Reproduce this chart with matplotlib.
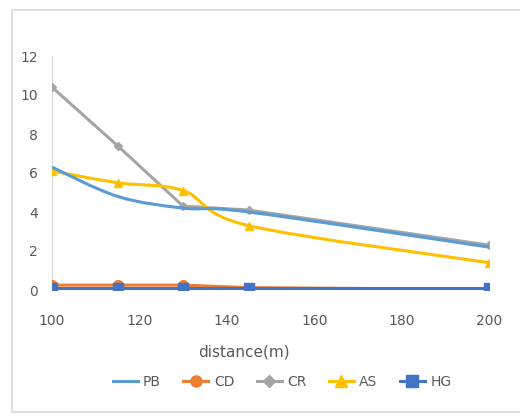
import numpy as np
import matplotlib
matplotlib.use('Agg')
import matplotlib.pyplot as plt
from matplotlib.path import Path
from matplotlib.patches import PathPatch, Rectangle
from matplotlib.lines import Line2D

distance = [100, 115, 130, 145, 200]
pb = [6.3, 4.8, 4.2, 4.0, 2.2]
cd = [0.25, 0.25, 0.25, 0.12, 0.03]
cr = [10.4, 7.4, 4.3, 4.1, 2.3]
as_ = [6.1, 5.5, 5.1, 3.3, 1.4]
hg = [0.1, 0.1, 0.1, 0.1, 0.1]

c_pb = '#5B9BD5'
c_cd = '#ED7D31'
c_cr = '#A5A5A5'
c_as = '#FFC000'
c_hg = '#4472C4'
txt = '#595959'


def smooth_path(xs, ys):
    # excel-style smoothed line as bezier segments through the data points
    xs = np.asarray(xs, float)
    ys = np.asarray(ys, float)
    n = len(xs)
    verts = [(xs[0], ys[0])]
    codes = [Path.MOVETO]
    for i in range(n - 1):
        p0 = (xs[max(i - 1, 0)], ys[max(i - 1, 0)])
        p1 = (xs[i], ys[i])
        p2 = (xs[i + 1], ys[i + 1])
        p3 = (xs[min(i + 2, n - 1)], ys[min(i + 2, n - 1)])
        t = 1 / 6
        c1 = (p1[0] + (p2[0] - p0[0]) * t, p1[1] + (p2[1] - p0[1]) * t)
        c2 = (p2[0] - (p3[0] - p1[0]) * t, p2[1] - (p3[1] - p1[1]) * t)
        verts += [c1, c2, p2]
        codes += [Path.CURVE4] * 3
    return Path(verts, codes)


fig = plt.figure(figsize=(5.2, 4.17), dpi=100)
fig.patches.append(Rectangle((12 / 520, 5 / 417), 1.2, 402 / 417, transform=fig.transFigure,
                             facecolor='none', edgecolor='#D9D9D9', lw=1.2, zorder=-1))
ax = fig.add_axes([52 / 520, 1 - 290 / 417, 437 / 520, 234 / 417])
ax.set_facecolor('none')

lw = 2.2
ax.plot(distance, cd, color=c_cd, lw=lw, marker='o', ms=7, zorder=4)
ax.plot(distance, hg, color=c_hg, lw=lw, marker='s', ms=7.5, zorder=5)
ax.plot(distance, cr, color=c_cr, lw=lw, marker='D', ms=4.5, zorder=3)
ax.add_patch(PathPatch(smooth_path(distance, pb), facecolor='none', edgecolor=c_pb, lw=lw, zorder=3.5))
ax.add_patch(PathPatch(smooth_path(distance, as_), facecolor='none', edgecolor=c_as, lw=lw, zorder=3.2))
ax.plot(distance, as_, color='none', marker='^', ms=6, mfc=c_as, mec=c_as, zorder=3.3)

ax.set_xlim(100, 200)
ax.set_ylim(0, 12)
ax.set_xticks([100, 120, 140, 160, 180, 200])
ax.set_yticks(range(0, 13, 2))
for s in ['top', 'right', 'bottom']:
    ax.spines[s].set_visible(False)
ax.spines['left'].set_color('#D9D9D9')
ax.tick_params(length=0, labelsize=10, labelcolor=txt)
ax.tick_params(axis='x', pad=17)
ax.tick_params(axis='y', pad=10)

fig.text(244 / 520, 1 - 352 / 417, 'distance(m)', ha='center', va='center', fontsize=11, color=txt)

handles = [
    Line2D([], [], color=c_pb, lw=lw),
    Line2D([], [], color=c_cd, lw=lw, marker='o', ms=8),
    Line2D([], [], color=c_cr, lw=lw, marker='D', ms=6),
    Line2D([], [], color=c_as, lw=lw, marker='^', ms=8),
    Line2D([], [], color=c_hg, lw=lw, marker='s', ms=8),
]
fig.legend(handles, ['PB', 'CD', 'CR', 'AS', 'HG'], loc='center', ncol=5,
           bbox_to_anchor=(282 / 520, 1 - 382 / 417), frameon=False, fontsize=10,
           labelcolor=txt, handlelength=1.8, handletextpad=0.4, columnspacing=1.6)

fig.savefig('out.png', dpi=100)
